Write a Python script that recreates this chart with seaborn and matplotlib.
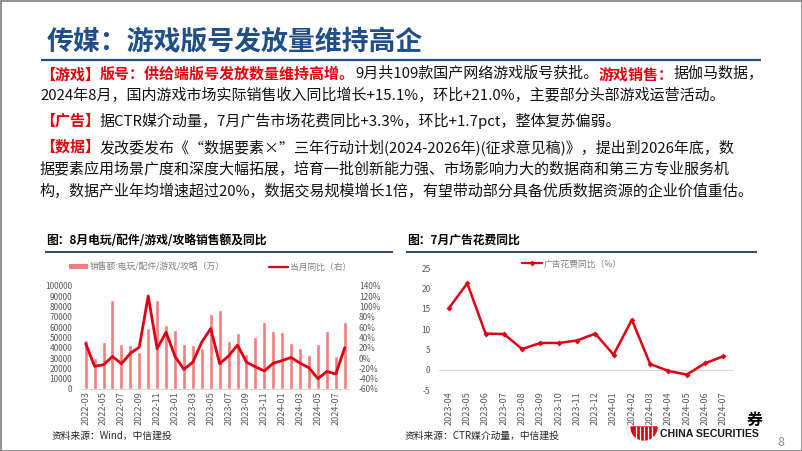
import matplotlib
matplotlib.use('Agg')
import matplotlib.pyplot as plt
import seaborn as sns
from matplotlib.patches import Rectangle, Patch, Wedge
from matplotlib.lines import Line2D
from matplotlib.ticker import FuncFormatter, MultipleLocator

# ---------------- data ----------------
sales_months = ['2022-03', '2022-04', '2022-05', '2022-06', '2022-07', '2022-08',
                '2022-09', '2022-10', '2022-11', '2022-12', '2023-01', '2023-02',
                '2023-03', '2023-04', '2023-05', '2023-06', '2023-07', '2023-08',
                '2023-09', '2023-10', '2023-11', '2023-12', '2024-01', '2024-02',
                '2024-03', '2024-04', '2024-05', '2024-06', '2024-07', '2024-08']
sales_wan = [47000, 30000, 45500, 86000, 43500, 42500, 36000, 59500, 86500, 62000,
             57500, 43500, 43000, 39500, 72500, 76000, 46000, 54000, 33500, 50000,
             64500, 56000, 55000, 45000, 39500, 33000, 43500, 56500, 31500, 64500]
sales_yoy_pct = [28, -16, -13, 3, -11, 9, 21, 120, 18, 50, 3, -22, -8, 31, 57,
                 -11, 4, 25, -8, -17, -25, -10, -5, 1, -10, -19, -40, -26, -31, 20]

ad_months = ['2023-04', '2023-05', '2023-06', '2023-07', '2023-08', '2023-09',
             '2023-10', '2023-11', '2023-12', '2024-01', '2024-02', '2024-03',
             '2024-04', '2024-05', '2024-06', '2024-07']
ad_yoy = [15.2, 21.3, 8.9, 8.8, 5.1, 6.6, 6.6, 7.2, 8.9, 3.7, 12.3, 1.4, -0.3, -1.2, 1.6, 3.3]

page_title = '传媒：游戏版号发放量维持高企'
chart1_title = '图：8月电玩/配件/游戏/攻略销售额及同比'
chart2_title = '图：7月广告花费同比'
legend1_labels = ['销售额:电玩/配件/游戏/攻略（万）', '当月同比（右）']
legend2_label = '广告花费同比（%）'
source1 = '资料来源：Wind，中信建投'
source2 = '资料来源：CTR媒介动量，中信建投'

RED = '#E8000B'
BLACK = '#111111'
body_lines = [
    [('【游戏】', RED, 'bold'), ('版号：供给端版号发放数量维持高增。', RED, 'bold'),
     ('9月共109款国产网络游戏版号获批。', BLACK, 'normal'), ('游戏销售：', RED, 'bold'),
     ('据伽马数据，', BLACK, 'normal')],
    [('2024年8月，国内游戏市场实际销售收入同比增长+15.1%，环比+21.0%，主要部分头部游戏运营活动。', BLACK, 'normal')],
    [('【广告】', RED, 'bold'), ('据CTR媒介动量，7月广告市场花费同比+3.3%，环比+1.7pct，整体复苏偏弱。', BLACK, 'normal')],
    [('【数据】', RED, 'bold'), ('发改委发布《“数据要素×”三年行动计划(2024-2026年)(征求意见稿)》，提出到2026年底，数', BLACK, 'normal')],
    [('据要素应用场景广度和深度大幅拓展，培育一批创新能力强、市场影响力大的数据商和第三方专业服务机', BLACK, 'normal')],
    [('构，数据产业年均增速超过20%，数据交易规模增长1倍，有望带动部分具备优质数据资源的企业价值重估。', BLACK, 'normal')],
]
body_y = [74, 95.5, 121, 147, 169, 191]

# ---------------- style ----------------
sns.set_theme(style='white')
plt.rcParams['font.family'] = ['Noto Sans CJK SC', 'DejaVu Sans']
plt.rcParams['axes.unicode_minus'] = False

W, H = 802, 451
fig = plt.figure(figsize=(W / 100, H / 100), dpi=100)
bg = fig.add_axes([0, 0, 1, 1])
bg.set_xlim(0, W)
bg.set_ylim(H, 0)
bg.axis('off')


def fbox(x0, y0, x1, y1):
    return [x0 / W, 1 - y1 / H, (x1 - x0) / W, (y1 - y0) / H]


NAVY = '#1F4E8A'
DARK = '#1F3864'
GRAY = '#595959'
BAR = '#F47C7C'
LINE = '#E00012'

# border
bg.add_patch(Rectangle((0.5, 0.5), W - 1, H - 1, fill=False, edgecolor='#7F7F7F', lw=1.2))

# page title
bg.text(47, 41, page_title, fontsize=19.4, fontweight='bold', color=NAVY, va='center', ha='left')
bg.plot([41, 761], [59.5, 59.5], color=NAVY, lw=1.6, solid_capstyle='butt')

# body text
for segs, y in zip(body_lines, body_y):
    prev = None
    for txt, col, wt in segs:
        if prev is None:
            prev = bg.text(40, y, txt, fontsize=10.8, color=col, fontweight=wt, va='center', ha='left')
        else:
            prev = bg.annotate(txt, xy=(1, 0.5), xycoords=prev, fontsize=10.8, color=col,
                               fontweight=wt, va='center', ha='left')

# chart titles
bg.text(46, 240, chart1_title, fontsize=8.5, fontweight='bold', color='black', va='center', ha='left')
bg.plot([45, 393], [251.5, 251.5], color=DARK, lw=1.3, solid_capstyle='butt')
bg.text(407, 240, chart2_title, fontsize=8.5, fontweight='bold', color='black', va='center', ha='left')
bg.plot([406, 757], [251.5, 251.5], color=DARK, lw=1.3, solid_capstyle='butt')

# sources
bg.text(52, 436, source1, fontsize=7, color='#262626', va='center', ha='left', style='italic')
bg.text(405, 436, source2, fontsize=7, color='#262626', va='center', ha='left', style='italic')

# logo
bg.add_patch(Wedge((644, 427), 13, 0, 180, color='#E60012'))
for xs in [636, 640, 644, 648, 652]:
    bg.plot([xs, xs], [427, 441], color='white', lw=0.9)
bg.text(660, 434, 'CHINA SECURITIES', fontsize=7.6, fontweight='bold', color='#1a1a1a',
        va='center', ha='left', family=['Liberation Sans', 'DejaVu Sans'])
bg.text(755, 420, '券', fontsize=11.5, fontweight='bold', color='black', va='center', ha='center')
bg.text(781, 442, '8', fontsize=9, color='#8C8C8C', va='center', ha='center')

# ---------------- chart 1 ----------------
ax1 = fig.add_axes(fbox(81.2, 285.7, 349.2, 389))
sns.barplot(x=sales_months, y=sales_wan, color=BAR, saturation=1, width=0.45, ax=ax1)
ax1b = ax1.twinx()
sns.lineplot(x=sales_months, y=sales_yoy_pct, color=LINE, lw=2.0, ax=ax1b, sort=False)
ax1.set_xlim(-0.5, len(sales_months) - 0.5)
ax1.set_ylim(0, 100000)
ax1b.set_ylim(-60, 140)
ax1.yaxis.set_major_locator(MultipleLocator(10000))
ax1b.yaxis.set_major_locator(MultipleLocator(20))
ax1b.yaxis.set_major_formatter(FuncFormatter(lambda v, p: f'{v:.0f}%'))
ax1.set_xticks(range(0, len(sales_months), 2))
ax1.set_xticklabels(sales_months[::2], rotation=90)
for a in (ax1, ax1b):
    a.set_xlabel('')
    a.set_ylabel('')
    for s in a.spines.values():
        s.set_visible(False)
    a.patch.set_visible(False)
ax1.spines['bottom'].set_visible(True)
ax1.spines['bottom'].set_color('#D9D9D9')
ax1.spines['bottom'].set_linewidth(0.8)
ax1.tick_params(axis='y', length=0, pad=6.5, labelsize=6, labelcolor=GRAY)
ax1b.tick_params(axis='y', length=0, pad=7, labelsize=6, labelcolor=GRAY)
ax1.tick_params(axis='x', length=0, pad=1.5, labelsize=6.5, labelcolor=GRAY)
ax1.grid(False)
ax1b.grid(False)

h1 = [Patch(facecolor=BAR, edgecolor='none'), Line2D([], [], color=LINE, lw=1.6)]
fig.legend(h1, legend1_labels, loc='center', bbox_to_anchor=(210 / W, 1 - 267 / H),
           ncol=2, frameon=False, fontsize=6.3, labelcolor='#808080', handlelength=2.2,
           handleheight=0.6, columnspacing=5, handletextpad=0.2)

# ---------------- chart 2 ----------------
ax2 = fig.add_axes(fbox(438.9, 268.3, 733.4, 390))
sns.lineplot(x=ad_months, y=ad_yoy, color=LINE, lw=1.8, marker='D', markersize=3,
             markeredgewidth=0, ax=ax2, sort=False)
ax2.axhline(0, color='#D9D9D9', lw=0.8, zorder=0)
ax2.set_xlim(-0.55, len(ad_months) - 1 + 0.55)
ax2.set_ylim(-5, 25)
ax2.yaxis.set_major_locator(MultipleLocator(5))
ax2.set_xticks(range(len(ad_months)))
ax2.set_xticklabels(ad_months, rotation=90)
ax2.set_xlabel('')
ax2.set_ylabel('')
for s in ax2.spines.values():
    s.set_visible(False)
ax2.patch.set_visible(False)
ax2.grid(False)
ax2.tick_params(axis='y', length=0, pad=6, labelsize=6, labelcolor=GRAY)
ax2.tick_params(axis='x', length=0, pad=1, labelsize=6.5, labelcolor=GRAY)

h2 = [Line2D([], [], color=LINE, lw=1.6, marker='D', markersize=3, markeredgewidth=0)]
fig.legend(h2, [legend2_label], loc='center', bbox_to_anchor=(572 / W, 1 - 264 / H),
           frameon=False, fontsize=6.3, labelcolor='#808080', handlelength=2.2, handletextpad=0.2)

fig.savefig('out.png', dpi=100)
